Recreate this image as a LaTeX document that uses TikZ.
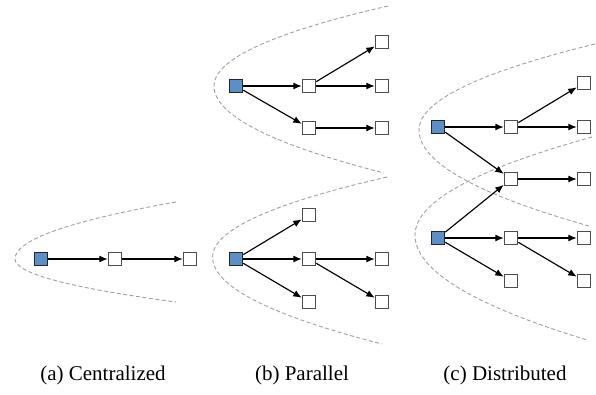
\documentclass[tikz,border=0pt]{standalone}
\usepackage{fontspec}
\setmainfont{Liberation Serif}
\usetikzlibrary{arrows.meta}
\definecolor{rootblue}{HTML}{5B8FC7}
\begin{document}
\begin{tikzpicture}[x=1pt,y=-1pt,
    box/.style={draw=black!70,fill=white,line width=1pt,minimum size=13.5pt,inner sep=0pt},
    root/.style={box,draw=black!85,fill=rootblue},
    edge/.style={-{Latex[length=8.5pt,width=7pt]},line width=1.15pt},
    zone/.style={gray!75,line width=0.9pt,dash pattern=on 4pt off 2.5pt}]
    \useasboundingbox (0,0) rectangle (596,394);

    % dashed regions
    \draw[zone] (176,202) .. controls (68.7,221) and (15,240) .. (15,259)
      .. controls (15,273.3) and (68.7,287.7) .. (176,302);
    \draw[zone] (388,6) .. controls (272,32.7) and (214,59.3) .. (214,86)
      .. controls (214,115) and (270.7,144) .. (384,173);
    \draw[zone] (387,177) .. controls (270.7,203.7) and (212.5,230.3) .. (212.5,257)
      .. controls (212.5,286) and (269,315) .. (382,344);
    \draw[zone] (595,44) .. controls (477.7,72.7) and (419,101.3) .. (419,130)
      .. controls (419,162) and (475.7,194) .. (589,226);
    \draw[zone] (592,137) .. controls (474,169.7) and (415,202.3) .. (415,235)
      .. controls (415,270) and (472.3,305) .. (587,340);

    % (a) centralized
    \node[root] (a0) at (41,259) {};
    \node[box]  (a1) at (115,259) {};
    \node[box]  (a2) at (190,259) {};

    % (b) parallel, upper
    \node[root] (bu0) at (236,86) {};
    \node[box]  (bu1) at (309,86) {};
    \node[box]  (bu2) at (309,128) {};
    \node[box]  (bu3) at (382,42) {};
    \node[box]  (bu4) at (382,86) {};
    \node[box]  (bu5) at (382,128) {};

    % (b) parallel, lower
    \node[root] (bl0) at (236,259) {};
    \node[box]  (bl1) at (309,215) {};
    \node[box]  (bl2) at (309,259) {};
    \node[box]  (bl3) at (309,302) {};
    \node[box]  (bl4) at (382,259) {};
    \node[box]  (bl5) at (382,302) {};

    % (c) distributed
    \node[root] (cu0) at (438,127) {};
    \node[box]  (c1)  at (511,127) {};
    \node[box]  (c2)  at (584,83) {};
    \node[box]  (c3)  at (584,127) {};
    \node[box]  (cm)  at (511,179) {};
    \node[box]  (c4)  at (584,179) {};
    \node[root] (cl0) at (438,238) {};
    \node[box]  (c5)  at (511,238) {};
    \node[box]  (c6)  at (584,238) {};
    \node[box]  (c7)  at (511,281) {};
    \node[box]  (c8)  at (584,281) {};

    \foreach \s/\t in {a0/a1,a1/a2,
        bu0/bu1,bu0/bu2,bu1/bu3,bu1/bu4,bu2/bu5,
        bl0/bl1,bl0/bl2,bl0/bl3,bl2/bl4,bl2/bl5,
        cu0/c1,cu0/cm,c1/c2,c1/c3,cm/c4,
        cl0/cm,cl0/c5,cl0/c7,c5/c6,c5/c8}{
      \draw[edge] (\s) -- (\t);
    }

    % captions
    \begin{scope}[font=\fontsize{21}{24}\selectfont]
      \node[anchor=base] (capa) at (103,380) {(a) Centralized};
      \node[anchor=base] (capb) at (302,380) {(b) Parallel};
      \node[anchor=base] (capc) at (505,380) {(c) Distributed};
    \end{scope}
\end{tikzpicture}
\end{document}
